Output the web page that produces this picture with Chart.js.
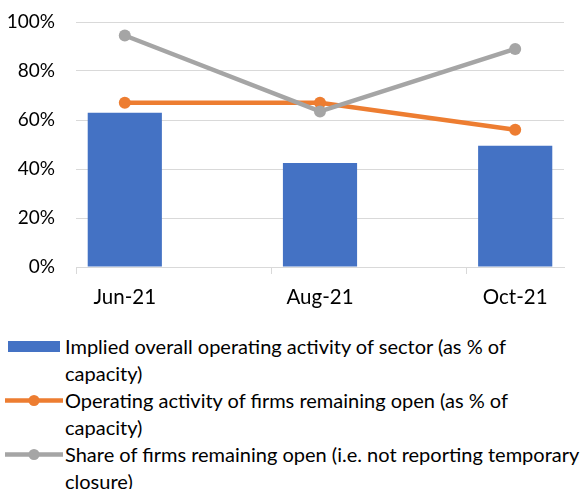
<!DOCTYPE html>
<html>
<head>
<meta charset="utf-8">
<script src="https://cdn.jsdelivr.net/npm/chart.js@4/dist/chart.umd.min.js"></script>
<style>
  html, body { margin: 0; padding: 0; background: #fff; }
  #wrap { position: relative; width: 586px; height: 489px; font-family: Lato, "Liberation Sans", sans-serif; color: #000; overflow: hidden; }
  #box { position: absolute; left: 0; top: 0; width: 586px; height: 320px; }
  #legend { position: absolute; left: 0; top: 333px; width: 586px; font-size: 20px; line-height: 27px; white-space: nowrap; }
  .item { position: relative; padding-left: 65px; }
  .sym { position: absolute; }
</style>
</head>
<body>
<div id="wrap">
  <div id="box"><canvas id="chart" width="586" height="320"></canvas></div>
  <div id="legend"></div>
</div>
<script>
// date axis in the source: monthly slots, labelled every 2 months
const months = ['Jun-21', 'Jul-21', 'Aug-21', 'Sep-21', 'Oct-21']
const yTicks = [0, 20, 40, 60, 80, 100]

const impliedActivity = [63, null, 42.5, null, 49.5]
const openFirmsActivity = [67, null, 67, null, 56]
const shareOpen = [94.5, null, 63.5, null, 89]

const seriesNames = [
  ['Implied overall operating activity of sector (as % of', 'capacity)'],
  ['Operating activity of firms remaining open (as % of', 'capacity)'],
  ['Share of firms remaining open (i.e. not reporting temporary', 'closure)']
]

const blue = '#4472C4'
const orange = '#ED7D31'
const grey = '#A5A5A5'
const gridCol = '#D9D9D9'

const fontFamily = 'Lato, "Liberation Sans", sans-serif'

const chart = new Chart(document.getElementById('chart'), {
  type: 'bar',
  data: {
    labels: months,
    datasets: [
      {
        type: 'bar',
        label: seriesNames[0].join(' '),
        data: impliedActivity,
        backgroundColor: blue,
        barPercentage: 0.76,
        categoryPercentage: 1,
        order: 2
      },
      {
        type: 'line',
        label: seriesNames[1].join(' '),
        data: openFirmsActivity,
        borderColor: orange,
        backgroundColor: orange,
        borderWidth: 4.5,
        pointRadius: 6,
        pointBorderWidth: 0,
        spanGaps: true,
        order: 1
      },
      {
        type: 'line',
        label: seriesNames[2].join(' '),
        data: shareOpen,
        borderColor: grey,
        backgroundColor: grey,
        borderWidth: 4.5,
        pointRadius: 6,
        pointBorderWidth: 0,
        spanGaps: true,
        order: 0
      }
    ]
  },
  options: {
    responsive: false,
    animation: false,
    layout: { padding: { top: 22, right: 22, left: 0, bottom: 0 } },
    plugins: {
      legend: { display: false },
      tooltip: { enabled: false }
    },
    scales: {
      x: {
        offset: true,
        grid: {
          offset: true,
          drawOnChartArea: false,
          drawTicks: true,
          tickLength: 7,
          color: (ctx) => (ctx.index % 2 === 0 && ctx.index < months.length ? gridCol : 'rgba(0,0,0,0)')
        },
        border: { color: gridCol, width: 1 },
        ticks: {
          font: { family: fontFamily, size: 20.5 },
          color: '#000',
          padding: 11,
          maxRotation: 0,
          autoSkip: false,
          callback: (v, i) => (i % 2 === 0 ? months[i] : '')
        },
        afterFit: (s) => { s.height = 53 }
      },
      y: {
        min: 0,
        max: 100,
        afterBuildTicks: (s) => { s.ticks = yTicks.map((v) => ({ value: v })) },
        grid: { color: gridCol, lineWidth: 1, drawTicks: false },
        border: { display: false },
        ticks: {
          font: { family: fontFamily, size: 19 },
          color: '#000',
          padding: 21,
          callback: (v) => v + '%'
        },
        afterFit: (s) => {
          s.width = 76
          // tick padding would otherwise be added above and below the axis
          s.paddingTop = 0
          s.paddingBottom = 0
        }
      }
    }
  }
})

// legend drawn as html so the labels wrap like the source
const legend = document.getElementById('legend')
chart.data.datasets.forEach((ds, i) => {
  const item = document.createElement('div')
  item.className = 'item'
  let sym
  if (ds.type === 'bar') {
    sym = '<div class="sym" style="background:' + ds.backgroundColor + ';left:8px;width:52px;top:8px;height:11px"></div>'
  } else {
    sym = '<svg class="sym" style="left:5px;top:3px" width="58" height="21">' +
      '<line x1="0" y1="10.5" x2="58" y2="10.5" stroke="' + ds.borderColor + '" stroke-width="4.5"/>' +
      '<circle cx="29" cy="10.5" r="5.5" fill="' + ds.borderColor + '"/></svg>'
  }
  item.innerHTML = sym + seriesNames[i].join('<br>')
  legend.appendChild(item)
})
</script>
</body>
</html>
